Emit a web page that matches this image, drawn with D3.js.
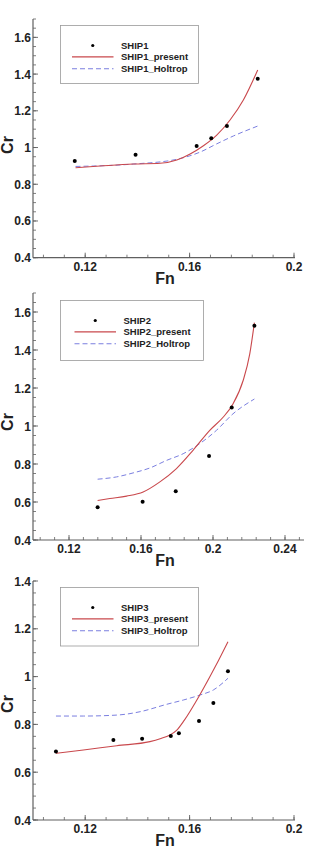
<!DOCTYPE html>
<html><head><meta charset="utf-8">
<script src="https://cdn.jsdelivr.net/npm/d3@7"></script>
<style>body{margin:0;background:#fff;}svg{display:block;font-family:"Liberation Sans",Arial,sans-serif;}</style>
</head><body>
<svg id="c" width="315" height="851"></svg>
<script>
// ---- data ----
const ship1Fn = [0.116, 0.1393, 0.1627, 0.1683, 0.1743, 0.1861];
const ship1Cr = [0.927, 0.961, 1.008, 1.050, 1.117, 1.375];
const ship1PresentFn = [0.1163, 0.1257, 0.1384, 0.1487, 0.1551, 0.1602, 0.1653, 0.1704, 0.1755, 0.1806, 0.1861];
const ship1PresentCr = [0.890, 0.899, 0.910, 0.914, 0.932, 0.965, 1.010, 1.068, 1.150, 1.259, 1.422];
const ship1HoltropFn = [0.1163, 0.1384, 0.1551, 0.164, 0.1704, 0.1768, 0.1861];
const ship1HoltropCr = [0.897, 0.910, 0.936, 0.975, 1.020, 1.063, 1.117];

const ship2Fn = [0.1359, 0.1609, 0.1793, 0.1978, 0.2104, 0.223];
const ship2Cr = [0.573, 0.601, 0.657, 0.842, 1.097, 1.528];
const ship2PresentFn = [0.1359, 0.1427, 0.152, 0.1612, 0.1705, 0.1797, 0.1889, 0.1982, 0.2056, 0.2111, 0.2167, 0.2204, 0.223];
const ship2PresentCr = [0.608, 0.618, 0.631, 0.653, 0.706, 0.776, 0.872, 0.977, 1.046, 1.116, 1.238, 1.378, 1.544];
const ship2HoltropFn = [0.1359, 0.1464, 0.1556, 0.1649, 0.1742, 0.1834, 0.1926, 0.2019, 0.2111, 0.223];
const ship2HoltropCr = [0.720, 0.732, 0.753, 0.779, 0.819, 0.854, 0.907, 0.977, 1.064, 1.142];

const ship3Fn = [0.1088, 0.1308, 0.1418, 0.1528, 0.1559, 0.1636, 0.1691, 0.1747];
const ship3Cr = [0.687, 0.735, 0.740, 0.751, 0.763, 0.814, 0.890, 1.022];
const ship3PresentFn = [0.1088, 0.1193, 0.1321, 0.1448, 0.1487, 0.1525, 0.155, 0.158, 0.164, 0.17, 0.1747];
const ship3PresentCr = [0.679, 0.693, 0.711, 0.728, 0.740, 0.756, 0.775, 0.818, 0.925, 1.045, 1.146];
const ship3HoltropFn = [0.1088, 0.1193, 0.1321, 0.141, 0.1512, 0.1576, 0.164, 0.1691, 0.1747];
const ship3HoltropCr = [0.835, 0.835, 0.839, 0.853, 0.884, 0.902, 0.923, 0.944, 0.993];

const xMajor1 = [0.12, 0.16, 0.2];
const xMajor2 = [0.12, 0.16, 0.2, 0.24];
const yMajor12 = [0.4, 0.6, 0.8, 1, 1.2, 1.4, 1.6];
const yMajor3 = [0.4, 0.6, 0.8, 1, 1.2, 1.4];

const panels = [
  {name:"SHIP1", fn:ship1Fn, cr:ship1Cr, pf:ship1PresentFn, pc:ship1PresentCr, hf:ship1HoltropFn, hc:ship1HoltropCr,
   xd:[0.1,0.2], xr:[33,294], yd:[0.4,1.7], yr:[257.7,19], xMaj:xMajor1, yMaj:yMajor12, legend:[60.5,25.5,138,58], ish:0, crY:145},
  {name:"SHIP2", fn:ship2Fn, cr:ship2Cr, pf:ship2PresentFn, pc:ship2PresentCr, hf:ship2HoltropFn, hc:ship2HoltropCr,
   xd:[0.1,0.25], xr:[33,303], yd:[0.4,1.7], yr:[540,293], xMaj:xMajor2, yMaj:yMajor12, legend:[60.5,300.5,143,60], ish:2.5, crY:422},
  {name:"SHIP3", fn:ship3Fn, cr:ship3Cr, pf:ship3PresentFn, pc:ship3PresentCr, hf:ship3HoltropFn, hc:ship3HoltropCr,
   xd:[0.1,0.2], xr:[33,294], yd:[0.4,1.4], yr:[820,581], xMaj:xMajor1, yMaj:yMajor3, legend:[60.5,587.5,138,58.5], ish:0, crY:704}
];

const svg = d3.select("#c");
const RED = "#c9484c", BLUE = "#7b7fe0", AX = "#606060";
const fmt = v => String(+v.toFixed(3));

panels.forEach((p, pi) => {
  const x = d3.scaleLinear().domain(p.xd).range(p.xr);
  const y = d3.scaleLinear().domain(p.yd).range(p.yr);
  const g = svg.append("g").attr("class","panel"+pi);
  const y0 = p.yr[0], x0 = p.xr[0];

  const xMinor = d3.range(Math.round((p.xd[1]-p.xd[0])/0.008)+1).map(i => +(p.xd[0]+0.004+i*0.008).toFixed(4)).filter(v => v<=p.xd[1]+1e-9);
  const yMinor = d3.range(Math.round((p.yd[1]-p.yd[0])/0.05)+1).map(i => +(p.yd[0]+i*0.05).toFixed(3));

  const ax = g.append("g").attr("class","axes");
  ax.append("line").attr("x1",x0).attr("x2",p.xr[1]+1).attr("y1",y0).attr("y2",y0).attr("stroke",AX).attr("stroke-width",1.2);
  ax.append("line").attr("x1",x0).attr("x2",x0).attr("y1",y0).attr("y2",p.yr[1]).attr("stroke",AX).attr("stroke-width",1.2);

  ax.selectAll("line.xmin").data(xMinor).join("line").attr("class","xmin")
    .attr("x1",d=>x(d)).attr("x2",d=>x(d)).attr("y1",y0).attr("y2",y0-3).attr("stroke",AX).attr("stroke-width",0.8);
  ax.selectAll("line.xmaj").data(p.xMaj).join("line").attr("class","xmaj")
    .attr("x1",d=>x(d)).attr("x2",d=>x(d)).attr("y1",y0).attr("y2",y0-5).attr("stroke",AX).attr("stroke-width",0.9);
  ax.selectAll("line.ymin").data(yMinor).join("line").attr("class","ymin")
    .attr("x1",x0).attr("x2",x0+3).attr("y1",d=>y(d)).attr("y2",d=>y(d)).attr("stroke",AX).attr("stroke-width",0.8);
  ax.selectAll("line.ymaj").data(p.yMaj).join("line").attr("class","ymaj")
    .attr("x1",x0).attr("x2",x0+5).attr("y1",d=>y(d)).attr("y2",d=>y(d)).attr("stroke",AX).attr("stroke-width",0.9);

  ax.selectAll("text.xl").data(p.xMaj).join("text").attr("class","xl")
    .attr("x",d=>x(d)).attr("y",y0+13).attr("text-anchor","middle")
    .attr("font-size",12).attr("font-weight","bold").attr("fill","#222").text(fmt);
  ax.selectAll("text.yl").data(p.yMaj).join("text").attr("class","yl")
    .attr("x",x0-2).attr("y",d=>y(d)+4.5).attr("text-anchor","end")
    .attr("font-size",12).attr("font-weight","bold").attr("fill","#222").text(fmt);

  ax.append("text").attr("x",165).attr("y",y0+26)
    .attr("text-anchor","middle").attr("font-size",16).attr("font-weight","bold").attr("fill","#222").text("Fn");
  ax.append("text").attr("transform",`translate(13,${p.crY}) rotate(-90)`)
    .attr("text-anchor","middle").attr("font-size",16).attr("font-weight","bold").attr("fill","#222").text("Cr");

  const line = d3.line().x(d=>x(d[0])).y(d=>y(d[1])).curve(d3.curveMonotoneX);
  const marks = g.append("g").attr("class","marks");
  marks.append("path").datum(d3.zip(p.hf,p.hc)).attr("d",line).attr("fill","none")
    .attr("stroke",BLUE).attr("stroke-width",1).attr("stroke-dasharray","5,3");
  marks.append("path").datum(d3.zip(p.pf,p.pc)).attr("d",line).attr("fill","none")
    .attr("stroke",RED).attr("stroke-width",1.1);
  marks.selectAll("circle.pt").data(d3.zip(p.fn,p.cr)).join("circle").attr("class","pt")
    .attr("cx",d=>x(d[0])).attr("cy",d=>y(d[1])).attr("r",2).attr("fill","#000");

  // legend
  const [lx,ly,lw,lh] = p.legend;
  const lg = g.append("g").attr("class","legend");
  lg.append("rect").attr("x",lx).attr("y",ly).attr("width",lw).attr("height",lh)
    .attr("fill","#fff").attr("stroke","#999").attr("stroke-width",0.8);
  const rows = [ly+20, ly+31.4, ly+43.2];
  const lx0 = lx+11.5+p.ish, lx1 = lx+53+p.ish, tx = lx+60.5+p.ish;
  lg.append("circle").attr("cx",(lx0+lx1)/2).attr("cy",rows[0]).attr("r",1.6).attr("fill","#000");
  lg.append("line").attr("x1",lx0).attr("x2",lx1).attr("y1",rows[1]).attr("y2",rows[1]).attr("stroke",RED).attr("stroke-width",1.2);
  lg.append("line").attr("x1",lx0).attr("x2",lx1).attr("y1",rows[2]).attr("y2",rows[2]).attr("stroke",BLUE).attr("stroke-width",1.1).attr("stroke-dasharray","5,3");
  [p.name, p.name+"_present", p.name+"_Holtrop"].forEach((t,i) => {
    lg.append("text").attr("x",tx).attr("y",rows[i]+3.5).attr("font-size",9.5).attr("font-weight","bold").attr("fill","#222").text(t);
  });
});
</script>
</body></html>
